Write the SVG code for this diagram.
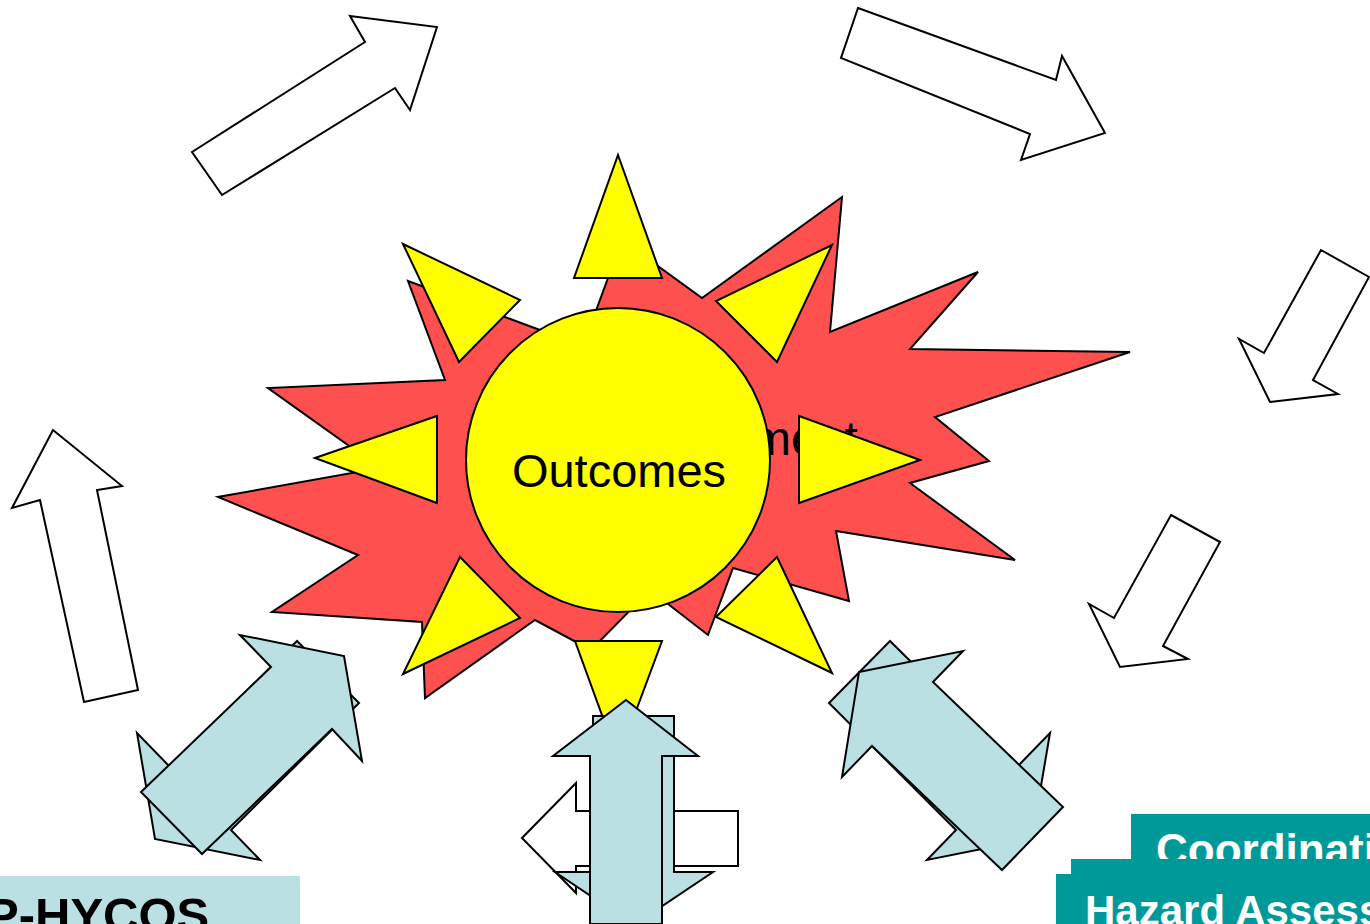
<svg xmlns="http://www.w3.org/2000/svg" width="1370" height="924" viewBox="0 0 1370 924">
<style>
.wa{fill:#FFFFFF;stroke:#000;stroke-width:2;stroke-linejoin:miter}
.ba{fill:#BBE0E3;stroke:#000;stroke-width:2}
.yl{fill:#FFFF00;stroke:#000;stroke-width:2}
.rd{fill:#FF5050;stroke:#000;stroke-width:2}
.t{font-family:"Liberation Sans",Arial,sans-serif}
.lbl{font-family:"Liberation Sans",Arial,sans-serif;font-weight:bold}
</style>
<rect width="1370" height="924" fill="#FFFFFF"/>
<g id="connectors">
  <polygon class="wa" points="192,152 365,42 350,16 437,27 410,110 395,88 222,195"/>
  <polygon class="wa" points="858,8 1056,80 1062,56 1105,133 1021,160 1030,134 841,58"/>
  <polygon class="wa" points="1321,250 1369,277 1313,380 1338,394 1270,402 1239,339 1264,353"/>
  <polygon class="wa" points="1171,515 1220,542 1163,646 1188,659 1120,667 1089,604 1114,618"/>
  <polygon class="wa" points="84,702 138,690 97,490 122,486 53,430 12,508 40,500"/>
</g>
<g id="burst">
  <polygon class="rd" points="622,240 702,298 842,197 830,332 978,272 910,349 1130,352 935,417 989,461 910,483 1015,560 836,531 849,601 733,568 708,635 650,590 591,650 535,620 425,698 422,622 272,612 358,555 218,497 380,468 268,388 445,380 408,281 583,346"/>
  <text class="t" x="751" y="455" font-size="48" fill="#000">ment</text>
</g>
<g id="rays">
  <polygon class="yl" points="618,155 662,278 574,278"/>
  <polygon class="yl" points="403,244 520,300 459,362"/>
  <polygon class="yl" points="832,245 716,301 777,362"/>
  <polygon class="yl" points="315,458 437,416 437,503"/>
  <polygon class="yl" points="920,460 799,416 799,503"/>
  <polygon class="yl" points="403,674 520,618 460,557"/>
  <polygon class="yl" points="832,673 716,617 777,557"/>
  <polygon class="yl" points="575,641 662,641 618,759"/>
</g>
<g id="outcomes">
  <circle class="yl" cx="618" cy="460" r="152"/>
  <text class="t" x="619" y="487" font-size="47" text-anchor="middle" fill="#000">Outcomes</text>
</g>
<g id="left-arrows">
  <polygon class="ba" points="297,641 359,703 231,830 260,860 155,839 137,733 170,767"/>
  <polygon class="ba" points="141,792 271,667 240,635 344,656 362,761 332,729 202,854"/>
</g>
<g id="right-arrows">
  <polygon class="ba" points="890,641 829,703 956,830 927,860 1032,839 1050,733 1017,767"/>
  <polygon class="ba" points="859,672 963,651 933,682 1063,807 1002,870 872,746 842,777"/>
</g>
<g id="bottom-arrows">
  <polygon class="wa" points="522,838 576,783 576,811 738,811 738,866 576,866 576,893"/>
  <polygon class="ba" points="593,716 674,716 674,872 713,872 634,925 555,872 593,872"/>
  <polygon class="ba" points="626,700 698,756 662,756 662,924 590,924 590,756 553,756"/>
</g>
<g id="box-phycos">
  <rect x="0" y="876" width="300" height="48" fill="#BBE0E3"/>
  <text class="lbl" x="-14" y="932" font-size="49" fill="#000">P-HYCOS</text>
</g>
<g id="box-coordination">
  <rect x="1131" y="814" width="239" height="60" fill="#009999"/>
  <text class="lbl" x="1156" y="865" font-size="44" fill="#FFFFFF">Coordination</text>
</g>
<g id="box-hazard">
  <rect x="1071" y="859" width="299" height="65" fill="#009999"/>
  <rect x="1056" y="874" width="314" height="50" fill="#009999"/>
  <text class="lbl" x="1085" y="925" font-size="42" fill="#FFFFFF">Hazard Assessment</text>
</g>
</svg>
